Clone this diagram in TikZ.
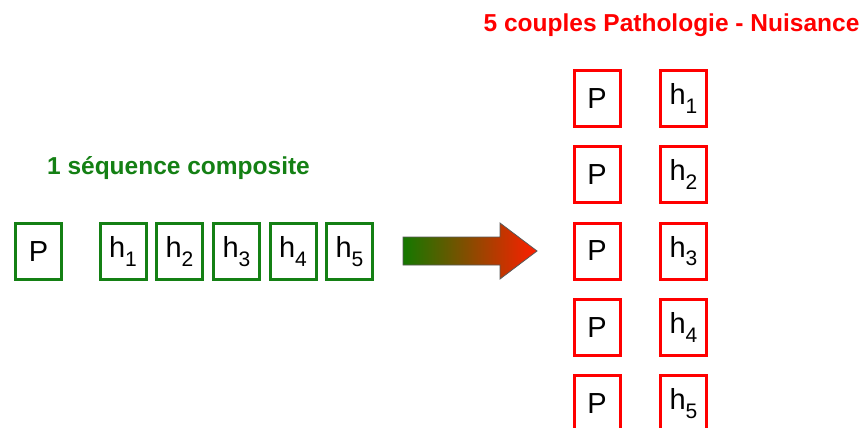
\documentclass[tikz,border=0pt]{standalone}
\usepackage{fontspec}
\setmainfont{Liberation Sans}
\definecolor{boxgreen}{RGB}{20,128,20}
\definecolor{txtgreen}{RGB}{20,128,20}
\definecolor{boxred}{RGB}{255,0,0}
\definecolor{arrL}{RGB}{20,120,0}
\definecolor{arrM}{RGB}{210,95,0}
\definecolor{arrR}{RGB}{255,30,0}
\newcommand{\hsub}[1]{h\raisebox{-0.3em}{\fontsize{21}{21}\selectfont #1}}
\tikzset{
  cell/.style={draw, line width=3pt, fill=white, minimum width=46pt, minimum height=56pt,
    inner sep=0pt, font=\fontsize{29}{29}\selectfont},
  gcell/.style={cell, draw=boxgreen},
  rcell/.style={cell, draw=boxred},
  title/.style={font=\fontsize{24.5}{24.5}\selectfont\bfseries}
}
\begin{document}
\begin{tikzpicture}[x=1pt,y=-1pt]
\useasboundingbox (0,0) rectangle (867,428);
\clip (0,0) rectangle (867,428);
% left sequence
\node[title, text=txtgreen] (tleft) at (178.5,168) {1 séquence composite};
\node[gcell] (lp) at (38.5,251.5) {P};
\node[gcell] (l1) at (123,251.5) {\hsub{1}};
\node[gcell] (l2) at (179.5,251.5) {\hsub{2}};
\node[gcell] (l3) at (236.5,251.5) {\hsub{3}};
\node[gcell] (l4) at (293,251.5) {\hsub{4}};
\node[gcell] (l5) at (349.5,251.5) {\hsub{5}};
% arrow
\path[draw=black!65, line width=0.8pt, left color=arrL, middle color=arrM, right color=arrR]
  (403,237) -- (500,237) -- (500,223) -- (537,251) -- (500,279) -- (500,265) -- (403,265) -- cycle;
% right pairs
\node[title, text=boxred] (tright) at (671.5,25) {5 couples Pathologie - Nuisance};
\foreach \i/\y in {1/98.5,2/174.75,3/251,4/327.25,5/403.5}{
  \node[rcell] (rp\i) at (597,\y) {P};
  \node[rcell] (rh\i) at (683.5,\y) {\hsub{\i}};
}
\end{tikzpicture}
\end{document}
